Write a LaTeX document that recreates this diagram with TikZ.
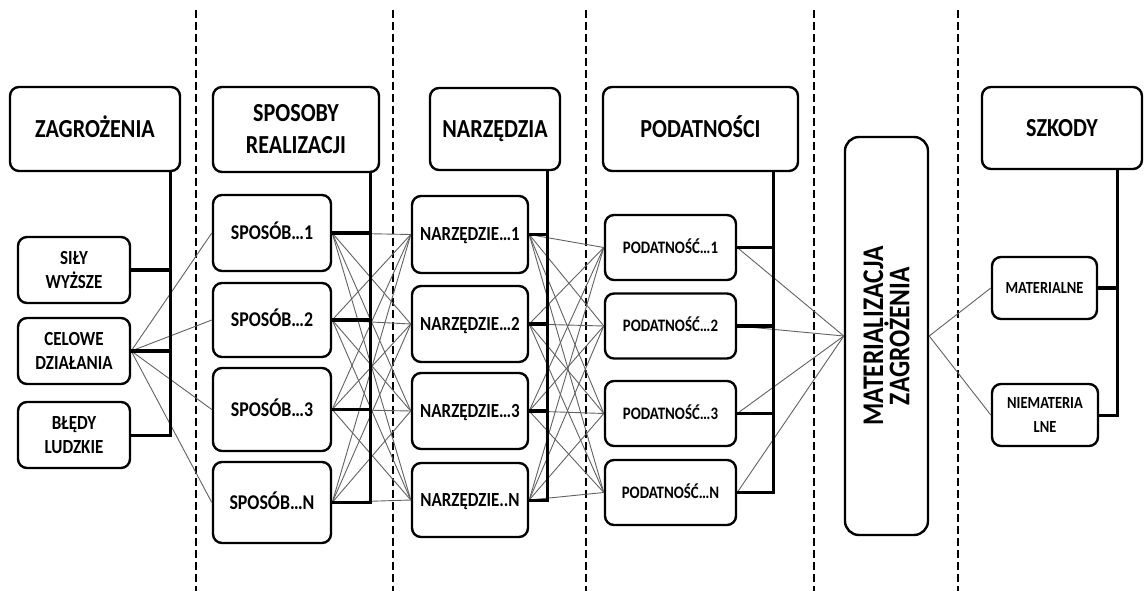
\documentclass[tikz,border=0pt]{standalone}
\usepackage{fontspec}
\setmainfont{Carlito}[FakeStretch=0.85]
\usetikzlibrary{calc}
\begin{document}
\begin{tikzpicture}[x=1pt,y=-1pt,
  box/.style={draw=black, line width=2.4pt, rounded corners=9pt, fill=white,
    inner sep=0pt, align=center},
  oneline/.style={text height=#1, text depth=0pt},
  head/.style={box, font=\bfseries\fontsize{26}{32}\selectfont},
  srcbox/.style={box, minimum width=112pt, minimum height=66pt,
    font=\bfseries\fontsize{20}{24.5}\selectfont},
  waybox/.style={box, minimum width=118pt, oneline=13.3pt,
    font=\bfseries\fontsize{21}{24}\selectfont},
  toolbox/.style={box, minimum width=116pt, oneline=12.7pt,
    font=\bfseries\fontsize{20}{24}\selectfont},
  vulnbox/.style={box, minimum width=131pt, minimum height=65pt, oneline=11.2pt,
    font=\bfseries\fontsize{17.5}{20}\selectfont},
  lossbox/.style={box, minimum height=62pt, font=\bfseries\fontsize{17}{24}\selectfont},
  wire/.style={draw=black!62, line width=0.9pt},
  spine/.style={draw=black, line width=3pt, line join=miter},
  stub/.style={draw=black, line width=3.6pt},
  divider/.style={draw=black, line width=2.4pt, dash pattern=on 8pt off 4pt}
]
\useasboundingbox (0,0) rectangle (1144,591);

% column dividers
\foreach \x in {196,393,586,814,958}
  \draw[divider] (\x,10) -- (\x,591);

% column headers
\node[head, oneline=16.5pt, minimum width=170pt, minimum height=84pt] (hZ) at (95,129) {ZAGROŻENIA};
\node[head, minimum width=166pt, minimum height=85pt] (hS) at (296,129.5) {SPOSOBY\\REALIZACJI};
\node[head, oneline=16.5pt, minimum width=130pt, minimum height=82pt] (hN) at (495,129) {NARZĘDZIA};
\node[head, oneline=16.5pt, minimum width=195pt, minimum height=84pt] (hP) at (700.5,129) {PODATNOŚCI};
\node[head, oneline=16.5pt, minimum width=160pt, minimum height=82pt] (hK) at (1062,128) {SZKODY};

% sources of threats
\node[srcbox] (L1) at (74,270) {SIŁY\\WYŻSZE};
\node[srcbox] (L2) at (74,351) {CELOWE\\DZIAŁANIA};
\node[srcbox] (L3) at (74,435) {BŁĘDY\\LUDZKIE};

% ways of realisation
\node[waybox, minimum height=76pt] (S1) at (272,233) {SPOSÓB…1};
\node[waybox, minimum height=74pt] (S2) at (272,320) {SPOSÓB…2};
\node[waybox, minimum height=83pt] (S3) at (272,409.5) {SPOSÓB…3};
\node[waybox, minimum height=81pt] (SN) at (272,502.5) {SPOSÓB…N};

% tools
\node[toolbox, minimum height=77pt] (N1) at (470,234.5) {NARZĘDZIE…1};
\node[toolbox, minimum height=76pt] (N2) at (470,324) {NARZĘDZIE…2};
\node[toolbox, minimum height=76pt] (N3) at (470,411) {NARZĘDZIE…3};
\node[toolbox, minimum height=74pt] (NN) at (470,500) {NARZĘDZIE..N};

% vulnerabilities
\node[vulnbox] (P1) at (670.5,247.5) {PODATNOŚĆ…1};
\node[vulnbox] (P2) at (670.5,326) {PODATNOŚĆ…2};
\node[vulnbox] (P3) at (670.5,413.5) {PODATNOŚĆ…3};
\node[vulnbox] (PN) at (670.5,492.5) {PODATNOŚĆ…N};

% materialisation of the threat
\node[box, rounded corners=14pt, minimum width=83pt, minimum height=398pt] (M) at (886.5,336) {};
\node[font=\bfseries\fontsize{30}{23}\selectfont, align=center, rotate=90] (Mt) at (M.center)
  {MATERIALIZACJA\\ZAGROŻENIA};

% losses
\node[lossbox, oneline=10.9pt, minimum width=105pt] (K1) at (1044.5,288) {MATERIALNE};
\node[lossbox, minimum width=106pt] (K2) at (1045,415) {NIEMATERIA\\LNE};

% thin links
\foreach \b in {S1,S2,S3,SN}
  \draw[wire] (L2.east) -- (\b.west);
\foreach \a in {S1,S2,S3,SN}
  \foreach \b in {N1,N2,N3,NN}
    \draw[wire] (\a.east) -- (\b.west);
\foreach \a in {N1,N2,N3,NN}
  \foreach \b in {P1,P2,P3,PN}
    \draw[wire] (\a.east) -- (\b.west);
\foreach \a in {P1,P2,P3,PN}
  \draw[wire] (\a.east) -- (M.west);
\foreach \b in {K1,K2}
  \draw[wire] (M.east) -- (\b.west);

% group brackets
\coordinate (zx) at (170,0);
\coordinate (sx) at (370,0);
\coordinate (nx) at (547,0);
\coordinate (px) at (773,0);
\coordinate (kx) at (1117,0);

\draw[spine] (hZ.south -| zx) |- (L3.east);
\foreach \b in {L1,L2}
  \draw[stub] (\b.east) -- (\b.east -| zx);

\draw[spine] (hS.south -| sx) |- (SN.east);
\foreach \b in {S1,S2,S3}
  \draw[stub] (\b.east) -- (\b.east -| sx);

\draw[spine] (hN.south -| nx) |- (NN.east);
\foreach \b in {N1,N2,N3}
  \draw[stub] (\b.east) -- (\b.east -| nx);

\draw[spine] (hP.south -| px) |- (PN.east);
\foreach \b in {P1,P2,P3}
  \draw[stub] (\b.east) -- (\b.east -| px);

\draw[spine] (hK.south -| kx) |- (K2.east);
\draw[stub] (K1.east) -- (K1.east -| kx);
\end{tikzpicture}
\end{document}
